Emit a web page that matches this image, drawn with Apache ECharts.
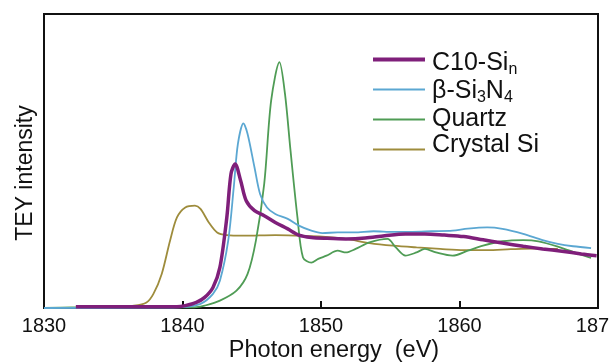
<!DOCTYPE html>
<html>
<head>
<meta charset="utf-8">
<script src="https://cdn.jsdelivr.net/npm/echarts@6/dist/echarts.min.js"></script>
<style>html,body{margin:0;padding:0;background:#fff}#c{width:609px;height:362px}</style>
</head>
<body>
<div id="c"></div>
<script>
const xTicks = [1830, 1840, 1850, 1860, 1870];
const seriesNames = ['C10-Si', 'β-Si3N4', 'Quartz', 'Crystal Si'];

const c10E = [1832.3,1836,1839.6,1840.2,1841.0,1841.6,1842.2,1842.7,1843.2,1843.5,1843.8,1844.2,1844.6,1845.2,1845.9,1846.7,1847.6,1848.4,1849.3,1850.4,1851.8,1853.2,1854.6,1856.1,1857.5,1858.9,1860.3,1861.7,1863.1,1864.6,1866.0,1867.4,1868.8,1869.9];
const c10V = [0.4,0.4,0.4,0.8,1.9,3.6,7.0,13.8,30.8,45.6,49.0,43.3,36.5,33.1,31.4,29.1,26.9,24.8,24.0,23.7,23.5,23.8,24.6,25.2,25.2,24.8,24.3,23.2,22.1,21.0,20.1,19.3,18.4,17.8];

const sinE = [1830,1838,1840,1841.3,1842.2,1842.7,1843.3,1843.7,1844.0,1844.4,1844.7,1845.2,1845.6,1846.1,1846.7,1847.6,1848.4,1849.3,1850.1,1851.2,1852.4,1853.8,1855.2,1856.6,1858.0,1859.5,1860.6,1862.0,1863.1,1864.6,1866.0,1867.1,1868.2,1869.5];
const sinV = [0,0.1,0.3,1.4,4.8,9.3,22.9,41.0,55.8,62.8,59.2,47.8,38.8,34.2,32.0,30.3,28.0,26.3,25.5,25.7,25.7,26.1,25.9,25.9,26.1,26.3,27.0,27.4,26.9,25.2,23.1,21.8,21.0,20.4];

const qE = [1830,1832,1836,1840,1841,1841.6,1842.7,1843.9,1844.7,1845.3,1845.9,1846.4,1847.0,1847.4,1847.8,1848.3,1848.7,1849.3,1849.8,1850.4,1851.2,1851.8,1852.5,1853.5,1854.8,1855.4,1856.1,1856.9,1857.5,1858.3,1859.5,1860.6,1861.7,1863.1,1864.6,1865.7,1867.1,1868.5,1869.5];
const qV = [0,0.2,0.2,0.2,0.3,0.8,2.5,5.9,11.6,22.9,42.2,70.5,83.6,72.8,53.5,30.8,17.2,15.4,16.7,17.8,19.5,18.9,20.1,22.3,23.5,20.6,17.8,18.9,20.1,18.9,17.8,19.5,21.2,22.7,23.1,22.7,20.9,18.6,17.0];

const csE = [1835,1836.5,1837.4,1837.9,1838.5,1839.1,1839.6,1840.2,1840.9,1841.3,1841.9,1842.5,1843.2,1844.4,1846.7,1848.4,1850.1,1851.8,1853.5,1855.2,1856.9,1858.6,1860.3,1862.0,1863.7,1865.4,1867.1];
const csV = [0.4,0.8,1.9,4.8,11.6,22.9,30.8,34.2,34.8,33.7,29.1,25.7,24.8,24.6,24.8,24.6,24.3,23.5,22.1,21.2,20.6,20.1,19.7,19.7,20.0,20.2,20.1];

const colors = ['#7f1f7a', '#5ba7d2', '#4f9c55', '#9e8c3c'];
const widths = [3.5, 1.8, 1.8, 1.8];
const FONT = 'Liberation Sans, Arial, Helvetica, sans-serif';

function pairs(e, v) { return e.map((x, i) => [x, v[i]]); }
const dataSets = [pairs(c10E, c10V), pairs(sinE, sinV), pairs(qE, qV), pairs(csE, csV)];
const legendLabels = ['C10-Si{s|n}', 'β-Si{s|3}N{s|4}', 'Quartz', 'Crystal Si'];
const legendLineY = [57, 87, 117, 147];
const textShift = [3.7, 2, -0.3, -4.7];

const rich = {
  s: { fontSize: 16, fontFamily: FONT, color: '#111', padding: [13, 0, 0, 0] }
};

function iconPath(d, t) {
  const H = 24, c = H / 2 - d;
  const y1 = (c - t / 2).toFixed(2), y2 = (c + t / 2).toFixed(2);
  return 'path://M0,0 M0,' + y1 + ' L52,' + y1 + ' L52,' + y2 + ' L0,' + y2 + ' Z M52,' + H;
}

const legends = seriesNames.map((n, i) => {
  const d = textShift[i];
  return {
    data: [n],
    left: 368,
    top: legendLineY[i] + d - 15,
    itemWidth: 52,
    itemHeight: 24,
    icon: iconPath(d, i === 0 ? 4 : 2),
    symbolKeepAspect: false,
    itemGap: 0,
    selectedMode: false,
    formatter: () => legendLabels[i],
    textStyle: { fontSize: 25, fontFamily: FONT, color: '#111', padding: [0, 0, 0, 2], rich: rich }
  };
});

const order = [3, 2, 1, 0];
const series = order.map(i => ({
  name: seriesNames[i],
  type: 'line',
  data: dataSets[i],
  smooth: 0.3,
  showSymbol: false,
  symbol: 'none',
  lineStyle: { color: colors[i], width: widths[i] },
  itemStyle: { color: colors[i] },
  z: 10 - i
}));

const chart = echarts.init(document.getElementById('c'), null, { renderer: 'canvas' });
chart.setOption({
  animation: false,
  backgroundColor: '#fff',
  grid: { left: 44, right: 11, top: 14, bottom: 54, containLabel: false, outerBoundsMode: 'none', show: true, borderColor: '#111', borderWidth: 2, backgroundColor: 'transparent' },
  legend: legends,
  xAxis: {
    type: 'value',
    min: xTicks[0],
    max: xTicks[xTicks.length - 1],
    interval: 10,
    name: 'Photon energy  (eV)',
    nameLocation: 'middle',
    nameGap: 31,
    nameMoveOverlap: false,
    nameTextStyle: { fontSize: 23.5, fontFamily: FONT, color: '#111', padding: [0, 0, 0, 26] },
    axisLine: { lineStyle: { color: '#111', width: 2 } },
    axisTick: { inside: true, length: 7, lineStyle: { color: '#111', width: 2 } },
    axisLabel: { fontSize: 20, fontFamily: FONT, color: '#111', margin: 8, showMinLabel: true, showMaxLabel: true, hideOverlap: false, formatter: v => String(v) },
    splitLine: { show: false }
  },
  yAxis: {
    type: 'value',
    min: 0,
    max: 100,
    name: 'TEY intensity',
    nameLocation: 'middle',
    nameGap: 7,
    nameRotate: 90,
    nameMoveOverlap: false,
    nameTextStyle: { fontSize: 23, fontFamily: FONT, color: '#111', padding: [0, 24, 0, 0] },
    axisLine: { show: true, lineStyle: { color: '#111', width: 2 } },
    axisTick: { show: false },
    axisLabel: { show: false },
    splitLine: { show: false }
  },
  series: series
});
</script>
</body>
</html>
